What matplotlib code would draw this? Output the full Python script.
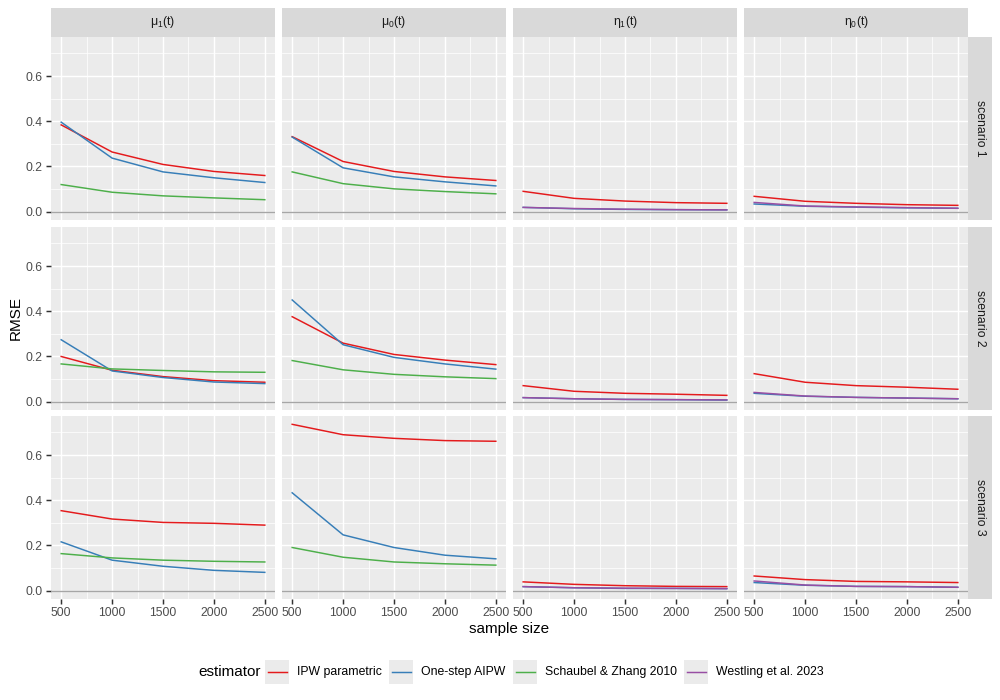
import matplotlib
matplotlib.use("Agg")
import matplotlib.pyplot as plt
from matplotlib.patches import Rectangle
from matplotlib.lines import Line2D
import numpy as np

plt.rcParams['font.family'] = ['Liberation Sans', 'DejaVu Sans']
plt.rcParams['mathtext.fontset'] = 'custom'
plt.rcParams['mathtext.rm'] = 'Liberation Sans'
plt.rcParams['mathtext.it'] = 'Liberation Sans'

sample_sizes = [500, 1000, 1500, 2000, 2500]
estimators = ["IPW parametric", "One-step AIPW", "Schaubel & Zhang 2010", "Westling et al. 2023"]
colors = ["#E41A1C", "#377EB8", "#4DAF4A", "#984EA3"]
quantities = [r"μ$_1$(t)", r"μ$_0$(t)", r"η$_1$(t)", r"η$_0$(t)"]
scenarios = ["scenario 1", "scenario 2", "scenario 3"]

# scenario 1
s1_mu1_ipw = [0.384, 0.264, 0.209, 0.178, 0.160]
s1_mu1_aipw = [0.396, 0.237, 0.176, 0.150, 0.129]
s1_mu1_sz = [0.120, 0.086, 0.070, 0.061, 0.053]
s1_mu0_ipw = [0.332, 0.222, 0.178, 0.154, 0.138]
s1_mu0_aipw = [0.330, 0.194, 0.154, 0.132, 0.114]
s1_mu0_sz = [0.176, 0.124, 0.101, 0.089, 0.079]
s1_eta1_ipw = [0.090, 0.059, 0.047, 0.040, 0.037]
s1_eta1_aipw = [0.019, 0.013, 0.010, 0.009, 0.008]
s1_eta1_west = [0.019, 0.014, 0.011, 0.009, 0.008]
s1_eta0_ipw = [0.068, 0.046, 0.037, 0.031, 0.028]
s1_eta0_aipw = [0.034, 0.024, 0.020, 0.017, 0.015]
s1_eta0_west = [0.041, 0.025, 0.021, 0.018, 0.015]
# scenario 2
s2_mu1_ipw = [0.200, 0.139, 0.111, 0.093, 0.086]
s2_mu1_aipw = [0.274, 0.136, 0.107, 0.087, 0.080]
s2_mu1_sz = [0.167, 0.145, 0.138, 0.132, 0.130]
s2_mu0_ipw = [0.376, 0.259, 0.209, 0.184, 0.164]
s2_mu0_aipw = [0.450, 0.252, 0.196, 0.167, 0.144]
s2_mu0_sz = [0.182, 0.141, 0.121, 0.110, 0.102]
s2_eta1_ipw = [0.071, 0.046, 0.037, 0.033, 0.028]
s2_eta1_aipw = [0.018, 0.013, 0.010, 0.009, 0.007]
s2_eta1_west = [0.018, 0.013, 0.010, 0.009, 0.008]
s2_eta0_ipw = [0.124, 0.086, 0.071, 0.064, 0.055]
s2_eta0_aipw = [0.037, 0.024, 0.019, 0.016, 0.013]
s2_eta0_west = [0.041, 0.025, 0.019, 0.016, 0.013]
# scenario 3
s3_mu1_ipw = [0.354, 0.317, 0.302, 0.298, 0.290]
s3_mu1_aipw = [0.216, 0.135, 0.108, 0.090, 0.081]
s3_mu1_sz = [0.164, 0.145, 0.135, 0.130, 0.127]
s3_mu0_ipw = [0.736, 0.690, 0.674, 0.664, 0.661]
s3_mu0_aipw = [0.433, 0.247, 0.191, 0.157, 0.141]
s3_mu0_sz = [0.191, 0.148, 0.127, 0.119, 0.113]
s3_eta1_ipw = [0.039, 0.028, 0.022, 0.019, 0.018]
s3_eta1_aipw = [0.018, 0.013, 0.010, 0.010, 0.009]
s3_eta1_west = [0.018, 0.013, 0.011, 0.010, 0.009]
s3_eta0_ipw = [0.065, 0.049, 0.041, 0.039, 0.036]
s3_eta0_aipw = [0.036, 0.024, 0.019, 0.018, 0.015]
s3_eta0_west = [0.043, 0.025, 0.019, 0.018, 0.015]

# panels[row][col] = list of (estimator index, values)
panels = [
    [[(0, s1_mu1_ipw), (1, s1_mu1_aipw), (2, s1_mu1_sz)],
     [(0, s1_mu0_ipw), (1, s1_mu0_aipw), (2, s1_mu0_sz)],
     [(0, s1_eta1_ipw), (1, s1_eta1_aipw), (3, s1_eta1_west)],
     [(0, s1_eta0_ipw), (1, s1_eta0_aipw), (3, s1_eta0_west)]],
    [[(0, s2_mu1_ipw), (1, s2_mu1_aipw), (2, s2_mu1_sz)],
     [(0, s2_mu0_ipw), (1, s2_mu0_aipw), (2, s2_mu0_sz)],
     [(0, s2_eta1_ipw), (1, s2_eta1_aipw), (3, s2_eta1_west)],
     [(0, s2_eta0_ipw), (1, s2_eta0_aipw), (3, s2_eta0_west)]],
    [[(0, s3_mu1_ipw), (1, s3_mu1_aipw), (2, s3_mu1_sz)],
     [(0, s3_mu0_ipw), (1, s3_mu0_aipw), (2, s3_mu0_sz)],
     [(0, s3_eta1_ipw), (1, s3_eta1_aipw), (3, s3_eta1_west)],
     [(0, s3_eta0_ipw), (1, s3_eta0_aipw), (3, s3_eta0_west)]],
]

W, H = 1000, 700
fig = plt.figure(figsize=(10, 7), dpi=100)

col_left = [51, 282, 513, 744]
row_top = [37, 227, 416]
pw, ph = 224, 183

allvals = [v for r in panels for c in r for _, s in c for v in s] + [0.0]
ymin, ymax = min(allvals), max(allvals)
yr = ymax - ymin
ylim = (ymin - 0.05 * yr, ymax + 0.05 * yr)
xr = sample_sizes[-1] - sample_sizes[0]
xlim = (sample_sizes[0] - 0.05 * xr, sample_sizes[-1] + 0.05 * xr)

def fx(px):
    return px / W

def fy(py):
    return 1 - py / H

tick_color = "#333333"
label_color = "#4D4D4D"

for r in range(3):
    for c in range(4):
        ax = fig.add_axes([fx(col_left[c]), fy(row_top[r] + ph), pw / W, ph / H])
        ax.set_facecolor("#EBEBEB")
        for sp in ax.spines.values():
            sp.set_visible(False)
        ax.set_xlim(*xlim)
        ax.set_ylim(*ylim)
        ax.set_xticks(sample_sizes)
        ax.set_xticks([750, 1250, 1750, 2250], minor=True)
        ax.set_yticks([0.0, 0.2, 0.4, 0.6])
        ax.set_yticks([0.1, 0.3, 0.5, 0.7], minor=True)
        ax.grid(which="major", color="white", lw=1.07)
        ax.grid(which="minor", color="white", lw=0.53)
        ax.set_axisbelow(True)
        ax.tick_params(which="minor", length=0)
        ax.tick_params(which="major", length=3.8, width=1.07, color=tick_color,
                       labelcolor=label_color, labelsize=8.8, pad=2.2)
        if c == 0:
            ax.set_yticklabels(["0.0", "0.2", "0.4", "0.6"])
        else:
            ax.tick_params(axis="y", which="major", length=0, labelleft=False)
        if r == 2:
            ax.set_xticklabels([str(s) for s in sample_sizes])
        else:
            ax.tick_params(axis="x", which="major", length=0, labelbottom=False)
        ax.axhline(0, color="#A6A6A6", lw=1.0, zorder=2)
        for ei, vals in panels[r][c]:
            ax.plot(sample_sizes, vals, color=colors[ei], lw=1.07, zorder=3)

# top strips
for c in range(4):
    fig.add_artist(Rectangle((fx(col_left[c]), fy(37)), pw / W, 29 / H,
                             transform=fig.transFigure, facecolor="#D9D9D9", edgecolor="none"))
    fig.text(fx(col_left[c] + pw / 2), fy(22.5), quantities[c], ha="center", va="center",
             fontsize=8.8, color="#1A1A1A")
# right strips
for r in range(3):
    fig.add_artist(Rectangle((fx(968), fy(row_top[r] + ph)), 24 / W, ph / H,
                             transform=fig.transFigure, facecolor="#D9D9D9", edgecolor="none"))
    fig.text(fx(980), fy(row_top[r] + ph / 2), scenarios[r], ha="center", va="center",
             rotation=-90, fontsize=8.8, color="#1A1A1A")

# axis titles
fig.text(fx(509.5), fy(629), "sample size", ha="center", va="center", fontsize=11, color="black")
fig.text(fx(16), fy(318), "RMSE", ha="center", va="center", rotation=90, fontsize=11, color="black")

# legend
fig.text(fx(198), fy(672), "estimator", ha="left", va="center", fontsize=11, color="black")
key_x = [265, 389, 513, 684]
for i, name in enumerate(estimators):
    kx = key_x[i]
    fig.add_artist(Rectangle((fx(kx), fy(684)), 24 / W, 24 / H, transform=fig.transFigure,
                             facecolor="#EBEBEB", edgecolor="none"))
    fig.add_artist(Line2D([fx(kx + 2.5), fx(kx + 21.5)], [fy(672), fy(672)],
                          transform=fig.transFigure, color=colors[i], lw=1.07))
    fig.text(fx(kx + 32), fy(672), name, ha="left", va="center", fontsize=8.8, color="black")

fig.savefig("out.png", dpi=100)
